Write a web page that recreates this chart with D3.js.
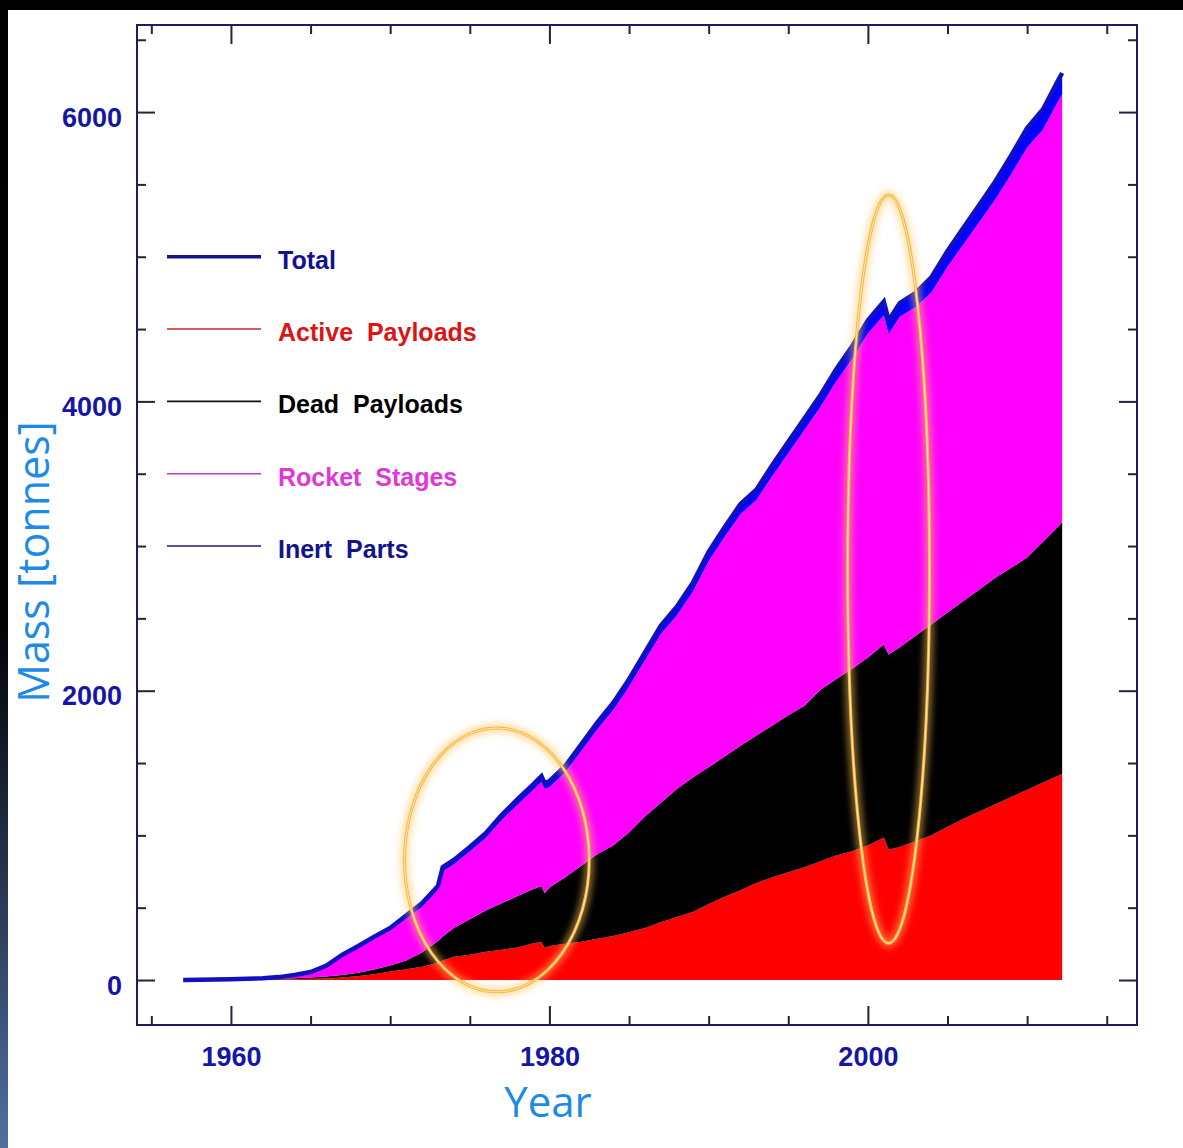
<!DOCTYPE html>
<html>
<head>
<meta charset="utf-8">
<script src="https://cdn.jsdelivr.net/npm/d3@7"></script>
<style>
  html, body { margin: 0; padding: 0; background: #ffffff; }
  svg { display: block; }
</style>
</head>
<body>
<svg id="chart" width="1183" height="1148"></svg>
<script>
// ---------------- DATA (tonnes) ----------------
const years = [1957, 1958, 1959, 1960, 1961, 1962, 1963, 1964, 1965, 1966, 1967, 1968, 1969,
  1970, 1971, 1972, 1973, 1973.3, 1974, 1975, 1976, 1977, 1978, 1979, 1979.5, 1979.7,
  1980, 1981, 1982, 1983, 1984, 1985, 1986, 1987, 1988, 1989, 1990, 1991, 1992, 1993,
  1994, 1995, 1996, 1997, 1998, 1999, 2000, 2001, 2001.3, 2002, 2003, 2004, 2005, 2006,
  2007, 2008, 2009, 2010, 2011, 2012, 2012.2];

const activePayloads = [0, 0, 0, 1, 2, 3, 4, 6, 8, 11, 18, 28, 40,
  58, 75, 92, 120, 135, 160, 175, 195, 210, 225, 255, 263, 222,
  235, 250, 265, 285, 305, 330, 360, 400, 435, 470, 525, 575, 620, 670,
  710, 745, 780, 820, 860, 890, 930, 985, 900, 920, 960, 1000, 1060, 1115,
  1165, 1215, 1265, 1315, 1365, 1415, 1425];

const deadPayloads = [0, 0, 0, 0, 1, 2, 4, 6, 10, 14, 17, 22, 32,
  42, 60, 98, 150, 165, 200, 245, 285, 320, 355, 375, 387, 378,
  405, 460, 525, 585, 625, 690, 770, 825, 885, 930, 945, 970, 1000, 1020,
  1050, 1085, 1115, 1185, 1220, 1260, 1300, 1335, 1350, 1380, 1420, 1460, 1480, 1505,
  1535, 1565, 1585, 1605, 1665, 1725, 1740];

const rocketStages = [0, 1, 1, 1, 1, 2, 6, 15, 27, 63, 126, 169, 210,
  240, 288, 315, 352, 450, 440, 468, 501, 574, 632, 685, 720, 720,
  693, 726, 794, 862, 935, 1008, 1080, 1167, 1200, 1283, 1425, 1517, 1600, 1628,
  1725, 1812, 1905, 1953, 2055, 2142, 2240, 2275, 2215, 2285, 2270, 2295, 2390, 2465,
  2540, 2615, 2720, 2835, 2850, 2945, 2955];

const inertParts = [0, 1, 2, 3, 4, 5, 6, 8, 10, 12, 14, 16, 18,
  20, 22, 25, 28, 30, 30, 32, 34, 36, 38, 40, 40, 40,
  42, 44, 46, 48, 50, 52, 55, 58, 60, 62, 65, 68, 70, 72,
  75, 78, 80, 82, 85, 88, 90, 95, 95, 95, 100, 105, 110, 115,
  120, 125, 130, 135, 140, 145, 150];

const seriesNames = ["Total", "Active  Payloads", "Dead  Payloads", "Rocket  Stages", "Inert  Parts"];
const legendLevels = [5000, 4500, 4000, 3500, 3000];

const xMajorTicks = [1960, 1980, 2000];
const xMinorTicks = [1955, 1965, 1970, 1975, 1985, 1990, 1995, 2005, 2010, 2015];
const yMajorTicks = [0, 2000, 4000, 6000];
const yMinorTicks = [500, 1000, 1500, 2500, 3000, 3500, 4500, 5000, 5500, 6500];

// annotation ellipses: [center year, center tonnes, half-width years, half-height tonnes]
const ellipseCenters = [[1976.7, 830], [2001.3, 2840]];
const ellipseRadii = [[5.8, 912], [2.57, 2586]];

// ---------------- LAYOUT ----------------
const svg = d3.select("#chart");
const W = 1183, H = 1148;
const plot = { left: 137, right: 1137, top: 25, bottom: 1025 };

const x = d3.scaleLinear().domain([1954.1, 2016.9]).range([plot.left, plot.right]);
const y = d3.scaleLinear().domain([-311, 6602]).range([plot.bottom, plot.top]);

// ---------------- BACKGROUND DECOR ----------------
const defs = svg.append("defs");
const grad = defs.append("linearGradient").attr("id", "leftStrip")
  .attr("x1", 0).attr("y1", 0).attr("x2", 0).attr("y2", 1);
grad.append("stop").attr("offset", "0%").attr("stop-color", "#000000");
grad.append("stop").attr("offset", "55%").attr("stop-color", "#050507");
grad.append("stop").attr("offset", "72%").attr("stop-color", "#1e2a3e");
grad.append("stop").attr("offset", "100%").attr("stop-color", "#5070a2");

const glow = defs.append("filter").attr("id", "glow")
  .attr("x", "-50%").attr("y", "-50%").attr("width", "200%").attr("height", "200%");
glow.append("feGaussianBlur").attr("stdDeviation", 3.5);

svg.append("rect").attr("x", 0).attr("y", 0).attr("width", W).attr("height", H).attr("fill", "#ffffff");
svg.append("rect").attr("x", 0).attr("y", 0).attr("width", 8).attr("height", H).attr("fill", "url(#leftStrip)");
svg.append("rect").attr("x", 0).attr("y", 0).attr("width", W).attr("height", 10).attr("fill", "#000000");

// ---------------- STACKED AREAS ----------------
const rows = years.map((yr, i) => ({
  year: yr,
  active: activePayloads[i],
  dead: deadPayloads[i],
  rocket: rocketStages[i],
  inert: inertParts[i]
}));
const keys = ["active", "dead", "rocket", "inert"];
const colors = { active: "#ff0000", dead: "#000000", rocket: "#ff00ff", inert: "#0000ff" };
const stacked = d3.stack().keys(keys)(rows);

const area = d3.area()
  .x(d => x(d.data.year))
  .y0(d => y(d[0]))
  .y1(d => y(d[1]))
  .curve(d3.curveLinear);

svg.append("g").selectAll("path")
  .data(stacked)
  .join("path")
  .attr("d", area)
  .attr("fill", d => colors[d.key]);

// Total line
const totals = rows.map(r => ({ year: r.year, total: r.active + r.dead + r.rocket + r.inert }));
svg.append("path")
  .datum(totals)
  .attr("d", d3.line().x(d => x(d.year)).y(d => y(d.total)))
  .attr("fill", "none")
  .attr("stroke", "#1010c0")
  .attr("stroke-width", 4.5)
  .attr("stroke-linejoin", "miter");

// ---------------- AXES ----------------
const tickColor = "#23233a";
const labelColor = "#1616a6";
const tickFont = "'Liberation Sans', Arial, Helvetica, sans-serif";

function styleAxis(g) {
  g.select(".domain").remove();
  g.selectAll(".tick line").attr("stroke", tickColor).attr("stroke-width", 2);
  g.selectAll(".tick text")
    .attr("fill", labelColor)
    .attr("font-family", tickFont)
    .attr("font-weight", "bold")
    .attr("font-size", 27);
}

// bottom
svg.append("g").attr("transform", `translate(0,${plot.bottom})`)
  .call(d3.axisBottom(x).tickValues(xMajorTicks).tickSize(-19).tickPadding(22).tickFormat(d3.format("d")))
  .call(styleAxis);
svg.append("g").attr("transform", `translate(0,${plot.bottom})`)
  .call(d3.axisBottom(x).tickValues(xMinorTicks).tickSize(-9).tickFormat(""))
  .call(styleAxis);
// top
svg.append("g").attr("transform", `translate(0,${plot.top})`)
  .call(d3.axisTop(x).tickValues(xMajorTicks).tickSize(-19).tickFormat(""))
  .call(styleAxis);
svg.append("g").attr("transform", `translate(0,${plot.top})`)
  .call(d3.axisTop(x).tickValues(xMinorTicks).tickSize(-9).tickFormat(""))
  .call(styleAxis);
// left
const leftMajor = svg.append("g").attr("transform", `translate(${plot.left},0)`)
  .call(d3.axisLeft(y).tickValues(yMajorTicks).tickSize(-18).tickPadding(15).tickFormat(d3.format("d")))
  .call(styleAxis);
leftMajor.selectAll(".tick text").attr("dy", "0.52em");
svg.append("g").attr("transform", `translate(${plot.left},0)`)
  .call(d3.axisLeft(y).tickValues(yMinorTicks).tickSize(-9).tickFormat(""))
  .call(styleAxis);
// right
svg.append("g").attr("transform", `translate(${plot.right},0)`)
  .call(d3.axisRight(y).tickValues(yMajorTicks).tickSize(-18).tickFormat(""))
  .call(styleAxis);
svg.append("g").attr("transform", `translate(${plot.right},0)`)
  .call(d3.axisRight(y).tickValues(yMinorTicks).tickSize(-9).tickFormat(""))
  .call(styleAxis);

// frame
svg.append("rect")
  .attr("x", plot.left).attr("y", plot.top)
  .attr("width", plot.right - plot.left).attr("height", plot.bottom - plot.top)
  .attr("fill", "none").attr("stroke", "#1d1d62").attr("stroke-width", 2);

// ---------------- LEGEND ----------------
const legendLineColors = ["#14148e", "#cc2424", "#111111", "#cc33cc", "#1a1a80"];
const legendLineWidths = [3.5, 1.6, 1.6, 1.6, 1.6];
const legendTextColors = ["#12128c", "#dd1414", "#000000", "#e038d8", "#14148a"];
const lg = svg.append("g");
seriesNames.forEach((name, i) => {
  const ly = y(legendLevels[i]);
  lg.append("line")
    .attr("x1", 167).attr("x2", 261).attr("y1", ly).attr("y2", ly)
    .attr("stroke", legendLineColors[i]).attr("stroke-width", legendLineWidths[i]);
  lg.append("text")
    .attr("x", 278).attr("y", ly + 12)
    .attr("fill", legendTextColors[i])
    .attr("font-family", tickFont)
    .attr("font-weight", "bold")
    .attr("font-size", 25)
    .style("white-space", "pre")
    .attr("xml:space", "preserve")
    .text(name);
});

// ---------------- AXIS TITLES ----------------
const titleColor = "#1c8ae6";
svg.append("text")
  .attr("x", 548).attr("y", 1117)
  .attr("text-anchor", "middle")
  .attr("fill", titleColor)
  .attr("font-family", "'Open Sans', 'Noto Sans', sans-serif")
  .attr("font-size", 42)
  .text("Year");
svg.append("text")
  .attr("transform", "translate(49,562) rotate(-90)")
  .attr("text-anchor", "middle")
  .attr("fill", titleColor)
  .attr("font-family", "'Open Sans', 'Noto Sans', sans-serif")
  .attr("font-size", 43)
  .text("Mass [tonnes]");

// ---------------- ANNOTATION ELLIPSES ----------------
const eg = svg.append("g");
ellipseCenters.forEach((c, i) => {
  const cx = x(c[0]), cy = y(c[1]);
  const rx = x(c[0] + ellipseRadii[i][0]) - cx;
  const ry = cy - y(c[1] + ellipseRadii[i][1]);
  eg.append("ellipse").attr("cx", cx).attr("cy", cy).attr("rx", rx).attr("ry", ry)
    .attr("fill", "none").attr("stroke", "#ffc45a").attr("stroke-width", 9)
    .attr("opacity", 0.55).attr("filter", "url(#glow)");
  eg.append("ellipse").attr("cx", cx).attr("cy", cy).attr("rx", rx).attr("ry", ry)
    .attr("fill", "none").attr("stroke", "#f8b84a").attr("stroke-width", 3);
  eg.append("ellipse").attr("cx", cx).attr("cy", cy).attr("rx", rx).attr("ry", ry)
    .attr("fill", "none").attr("stroke", "#ffe9a8").attr("stroke-width", 1);
});
</script>
</body>
</html>
